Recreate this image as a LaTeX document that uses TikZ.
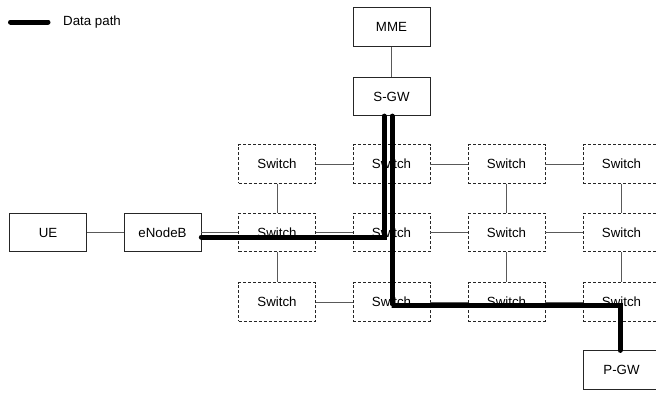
\documentclass[tikz,border=0pt]{standalone}
\usepackage{fontspec}
\setmainfont{Liberation Sans}
\begin{document}
\begin{tikzpicture}[x=1pt,y=-1pt,
  every node/.style={font=\fontsize{13.3}{15}\selectfont},
  solidbox/.style={draw=black!85,line width=0.7pt,minimum width=77pt,minimum height=38.5pt,inner sep=0pt},
  swbox/.style={draw=black!85,line width=0.7pt,dash pattern=on 3pt off 2pt,minimum width=77pt,minimum height=38.5pt,inner sep=0pt},
  link/.style={draw=black!65,line width=0.8pt},
  datapath/.style={draw=black,line width=5pt,line cap=round,line join=miter}]
\useasboundingbox (0,0) rectangle (656,392);
% legend
\coordinate (l1) at (10.5,22);
\coordinate (l2) at (48,22);
\draw[datapath] (l1) -- (l2);
\node[anchor=west,inner sep=0pt,font=\fontsize{13.3}{15}\selectfont] (leg) at (63,22) {Data path};
% nodes
\node[solidbox] (ue) at (48,232.5) {UE};
\node[solidbox] (enb) at (162.5,232.5) {eNodeB};
\node[solidbox] (mme) at (391.5,27) {MME};
\node[solidbox] (sgw) at (391.5,96.5) {S-GW};
\node[solidbox] (pgw) at (621.5,370) {P-GW};
\foreach \r/\y in {1/164,2/232.5,3/302}{
  \foreach \c/\x in {1/277,2/391.5,3/506.5,4/621.5}{
    \node[swbox] (s\r\c) at (\x,\y) {Switch};
  }
}
% links
\draw[link] (ue) -- (enb);
\draw[link] (mme) -- (sgw);
\draw[link] (sgw) -- (s12);
\draw[link] (enb) -- (s21);
\foreach \r in {1,2,3}{
  \draw[link] (s\r1) -- (s\r2);
  \draw[link] (s\r2) -- (s\r3);
  \draw[link] (s\r3) -- (s\r4);
}
\foreach \c in {1,2,3,4}{
  \draw[link] (s1\c) -- (s2\c);
  \draw[link] (s2\c) -- (s3\c);
}
% data paths
\draw[datapath] ([yshift=-4.5pt]enb.east) -| ([xshift=-7.5pt]sgw.south);
\draw[datapath] ([xshift=0.5pt]sgw.south) |- ([yshift=-3pt]s32.center) -| ([xshift=-1.5pt]pgw.north);
\end{tikzpicture}
\end{document}
